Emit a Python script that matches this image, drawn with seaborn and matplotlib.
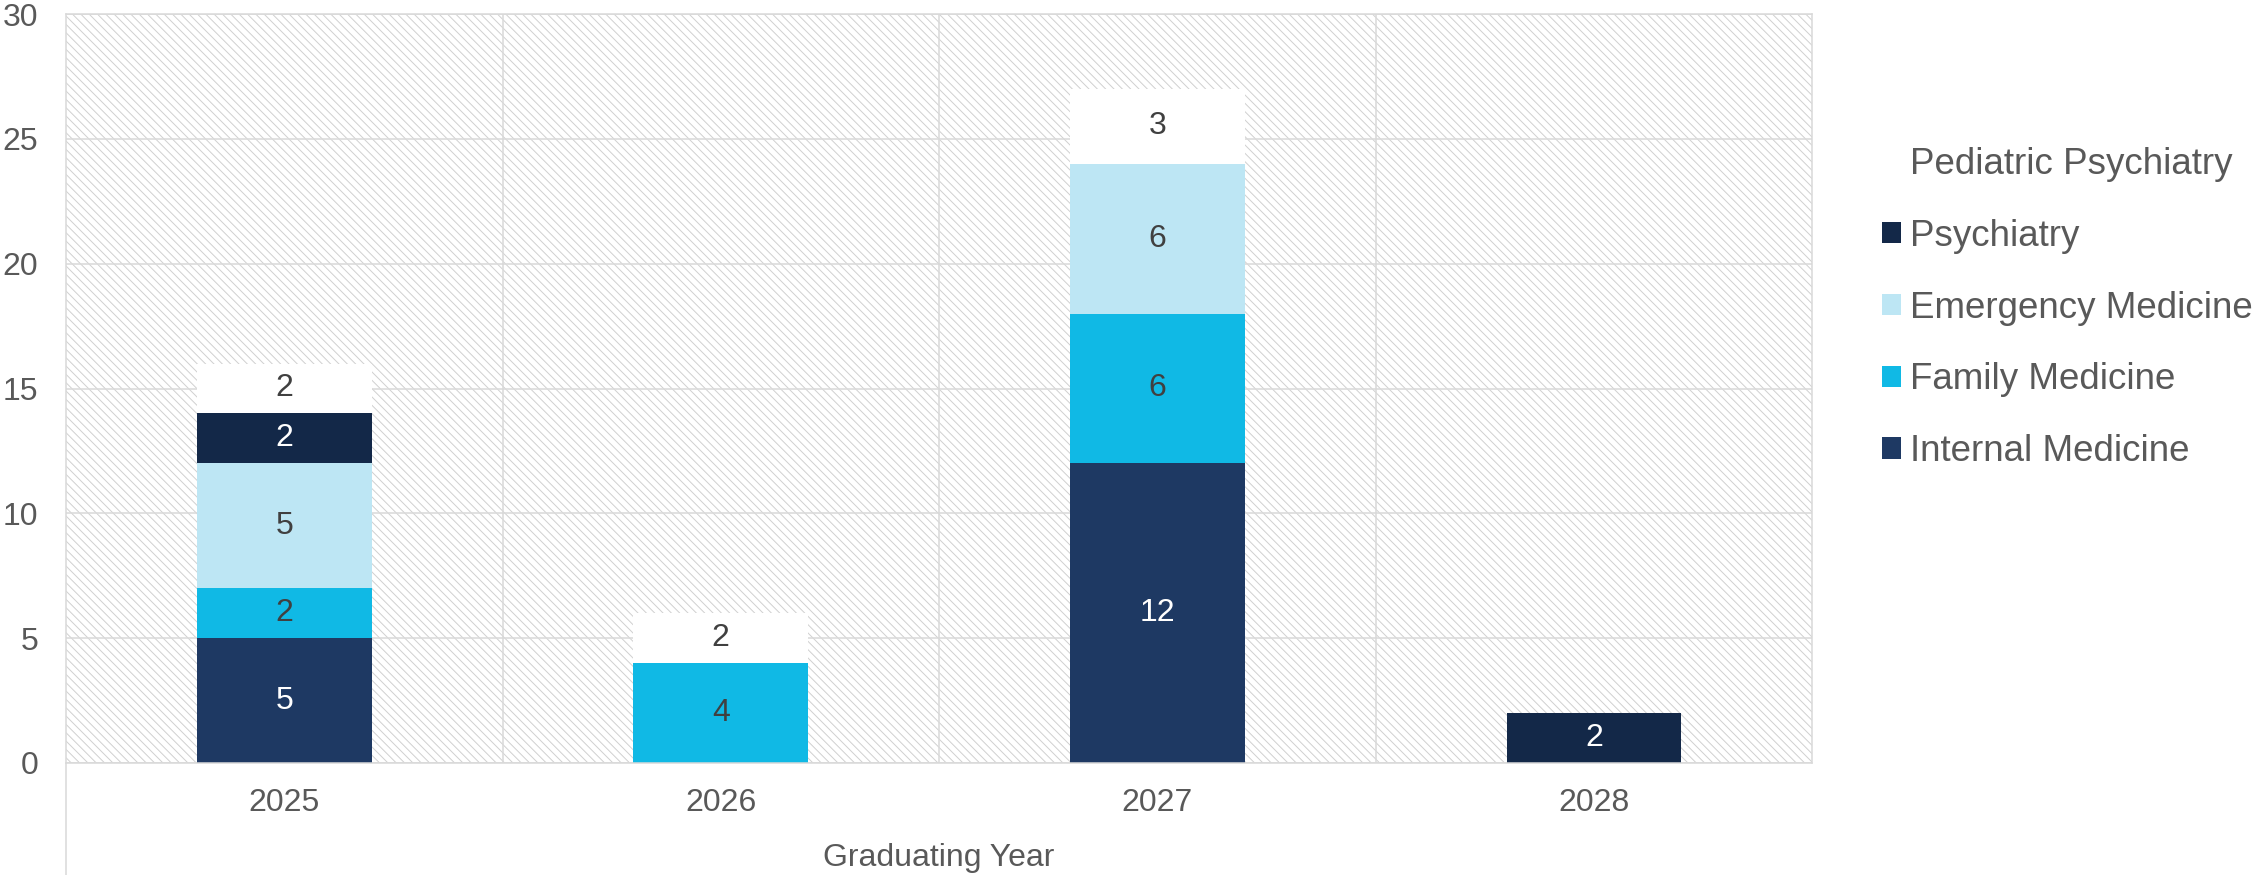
"""
Gráfico de barras empilhadas: residências por ano de formatura
"""

import matplotlib.pyplot as plt
import matplotlib.patches as mpatches
import numpy as np
import pandas as pd
import seaborn as sns

# Dados
anos = ["2025", "2026", "2027", "2028"]
especialidades = [
    "Internal Medicine",
    "Family Medicine",
    "Emergency Medicine",
    "Psychiatry",
    "Pediatric Psychiatry",
]
internal_medicine = [5, 0, 12, 0]
family_medicine = [2, 4, 6, 0]
emergency_medicine = [5, 0, 6, 0]
psychiatry = [2, 0, 0, 2]
pediatric_psychiatry = [2, 2, 3, 0]

cores = {
    "Internal Medicine": "#1E3963",
    "Family Medicine": "#10B9E5",
    "Emergency Medicine": "#BDE6F4",
    "Psychiatry": "#132848",
    "Pediatric Psychiatry": "#FFFFFF",
}
cor_rotulo = {
    "Internal Medicine": "white",
    "Family Medicine": "#404040",
    "Emergency Medicine": "#404040",
    "Psychiatry": "white",
    "Pediatric Psychiatry": "#404040",
}

valores = [internal_medicine, family_medicine, emergency_medicine,
           psychiatry, pediatric_psychiatry]
df = pd.DataFrame(
    [(a, esp, v) for esp, serie in zip(especialidades, valores)
     for a, v in zip(anos, serie)],
    columns=["ano", "especialidade", "total"],
)

FONTE = "Liberation Sans"
CINZA_TEXTO = "#595959"
CINZA_GRADE = "#D9D9D9"
TAM = 23

sns.set_style("white")
plt.rcParams["font.family"] = [FONTE, "DejaVu Sans"]
plt.rcParams["hatch.color"] = "#D0D0D0"
plt.rcParams["hatch.linewidth"] = 0.7

fig = plt.figure(figsize=(22.59, 8.75), dpi=100)
ax = fig.add_axes([0.0292, 0.128, 0.7730, 0.856])

# Fundo hachurado da área do gráfico
ax.set_facecolor("white")
ax.patch.set_hatch("\\" * 4)
ax.patch.set_edgecolor("#D0D0D0")
ax.patch.set_linewidth(0)

base = np.zeros(len(anos))
for esp in especialidades:
    sub = df[df["especialidade"] == esp]
    sns.barplot(
        data=sub, x="ano", y="total", order=anos,
        color=cores[esp], width=0.4, errorbar=None,
        bottom=base.copy(), linewidth=0, saturation=1, ax=ax,
    )
    rotulos = [str(int(v)) if v else "" for v in sub["total"]]
    ax.bar_label(ax.containers[-1], labels=rotulos, label_type="center",
                 color=cor_rotulo[esp], fontsize=TAM)
    base += sub["total"].to_numpy()

# Eixos e grade
ax.set_xlim(-0.5, 3.5)
ax.set_ylim(0, 30)
ax.set_yticks(range(0, 31, 5))
ax.set_xticks([0.5, 1.5, 2.5], minor=True)
ax.set_axisbelow(True)
ax.grid(axis="y", color=CINZA_GRADE, linewidth=1.1)
ax.grid(axis="x", which="minor", color=CINZA_GRADE, linewidth=1.1)
ax.grid(axis="x", which="major", visible=False)
for spine in ax.spines.values():
    spine.set_visible(True)
    spine.set_color(CINZA_GRADE)
    spine.set_linewidth(1.1)
ax.plot([0, 0], [0, -0.16], transform=ax.transAxes, color=CINZA_GRADE,
        linewidth=1.1, clip_on=False)

ax.tick_params(axis="both", which="both", length=0, labelsize=TAM,
               labelcolor=CINZA_TEXTO)
ax.tick_params(axis="y", pad=20)
ax.tick_params(axis="x", pad=18)
ax.set_ylabel("")
ax.set_xlabel("Graduating Year", fontsize=TAM, color=CINZA_TEXTO,
              va="center")
ax.xaxis.set_label_coords(0.5, -0.127)

# Legenda (ordem inversa)
handles = [mpatches.Patch(facecolor=cores[e], edgecolor="none", label=e)
           for e in reversed(especialidades)]
fig.legend(
    handles=handles, loc="upper left", bbox_to_anchor=(0.833, 0.832),
    bbox_transform=fig.transFigure, frameon=False, fontsize=26.5,
    labelcolor=CINZA_TEXTO, handlelength=0.52, handleheight=0.52,
    handletextpad=0.25, labelspacing=1.0, borderpad=0, borderaxespad=0,
)

fig.savefig("out.png", dpi=100)
